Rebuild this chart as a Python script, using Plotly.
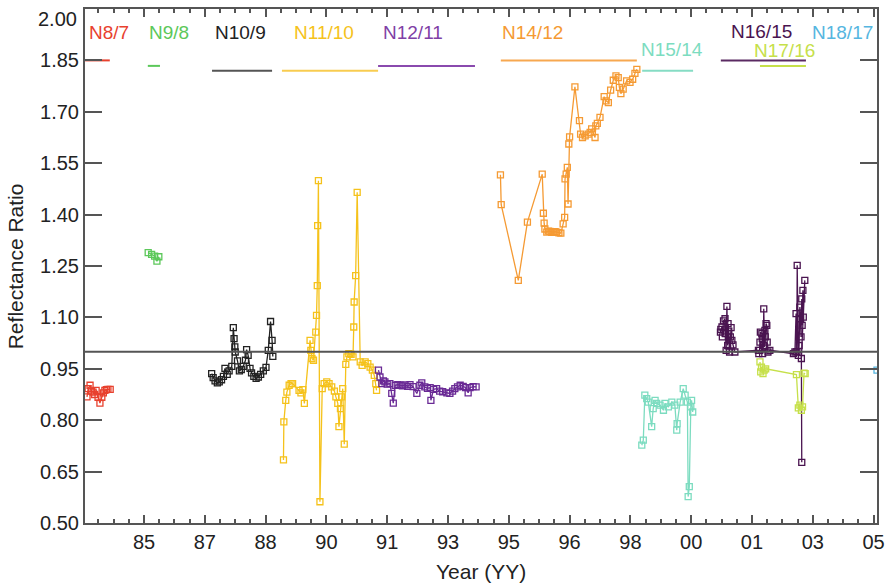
import plotly.graph_objects as go

# ---- Reflectance ratio time series for each satellite pair (decimal year, ratio) ----
n8_7_year = [1983.50, 1983.53, 1983.58, 1983.62, 1983.66, 1983.70, 1983.74, 1983.79,
             1983.84, 1983.89, 1983.93, 1983.97, 1984.01, 1984.05, 1984.11]
n8_7_ratio = [0.868, 0.892, 0.902, 0.885, 0.882, 0.875, 0.887, 0.867,
              0.850, 0.867, 0.880, 0.887, 0.889, 0.890, 0.890]

n9_8_year = [1985.11, 1985.20, 1985.28, 1985.34, 1985.39]
n9_8_ratio = [1.289, 1.284, 1.279, 1.264, 1.277]

n10_9_year = [1986.78, 1986.82, 1986.87, 1986.93, 1986.98, 1987.04, 1987.09, 1987.13,
              1987.19, 1987.24, 1987.31, 1987.35, 1987.37, 1987.39, 1987.40, 1987.46,
              1987.51, 1987.56, 1987.61, 1987.67, 1987.70, 1987.74, 1987.79, 1987.83,
              1987.89, 1987.95, 1988.01, 1988.07, 1988.14, 1988.21, 1988.27, 1988.33,
              1988.37, 1988.39]
n10_9_ratio = [0.936, 0.924, 0.915, 0.909, 0.912, 0.918, 0.928, 0.951,
               0.934, 0.944, 0.957, 1.070, 1.038, 1.014, 0.999, 0.973,
               0.944, 0.948, 0.957, 0.975, 1.006, 0.989, 0.951, 0.938,
               0.928, 0.922, 0.926, 0.934, 0.944, 0.954, 1.004, 1.088,
               1.033, 0.986]

n11_10_year = [1988.67, 1988.68, 1988.73, 1988.76, 1988.82, 1988.87, 1988.91, 1989.08,
               1989.13, 1989.18, 1989.22, 1989.37, 1989.39, 1989.42, 1989.46, 1989.52,
               1989.54, 1989.56, 1989.57, 1989.59, 1989.63, 1989.69, 1989.74, 1989.81,
               1989.87, 1989.94, 1990.01, 1990.05, 1990.10, 1990.13, 1990.17, 1990.20,
               1990.23, 1990.27, 1990.31, 1990.34, 1990.39, 1990.45, 1990.50, 1990.52,
               1990.53, 1990.57, 1990.61, 1990.69, 1990.74, 1990.82, 1990.89, 1990.95,
               1991.01, 1991.06, 1991.10, 1991.12]
n11_10_ratio = [0.684, 0.795, 0.858, 0.882, 0.902, 0.907, 0.907, 0.887,
                0.880, 0.889, 0.849, 1.033, 1.004, 0.980, 0.975, 1.057,
                1.106, 1.193, 1.368, 1.499, 0.562, 0.892, 0.907, 0.912,
                0.907, 0.897, 0.885, 0.868, 0.849, 0.781, 0.834, 0.868,
                0.892, 0.730, 0.963, 0.985, 0.994, 0.992, 0.985, 1.072,
                1.145, 1.222, 1.465, 0.970, 0.960, 0.970, 0.965, 0.955,
                0.946, 0.931, 0.907, 0.887]

n12_11_year = [1991.17, 1991.21, 1991.26, 1991.30, 1991.34, 1991.40, 1991.47, 1991.52,
               1991.56, 1991.61, 1991.68, 1991.74, 1991.80, 1991.87, 1991.94, 1992.00,
               1992.08, 1992.18, 1992.26, 1992.31, 1992.39, 1992.46, 1992.53, 1992.55,
               1992.62, 1992.70, 1992.78, 1992.86, 1992.97, 1993.05, 1993.12, 1993.18,
               1993.25, 1993.32, 1993.40, 1993.46, 1993.53, 1993.58, 1993.66, 1993.74]
n12_11_ratio = [0.946, 0.926, 0.907, 0.915, 0.912, 0.905, 0.907, 0.878,
                0.850, 0.902, 0.904, 0.902, 0.900, 0.903, 0.899, 0.904,
                0.898, 0.878, 0.902, 0.909, 0.897, 0.893, 0.895, 0.858,
                0.890, 0.892, 0.885, 0.883, 0.880, 0.878, 0.885, 0.892,
                0.897, 0.902, 0.899, 0.895, 0.880, 0.895, 0.898, 0.897]

n14_12_year = [1994.38, 1994.40, 1994.85, 1995.09, 1995.48, 1995.51, 1995.53, 1995.55,
               1995.60, 1995.64, 1995.68, 1995.73, 1995.77, 1995.82, 1995.86, 1995.92,
               1995.97, 1996.03, 1996.07, 1996.08, 1996.11, 1996.14, 1996.16, 1996.18,
               1996.20, 1996.34, 1996.46, 1996.49, 1996.54, 1996.61, 1996.69, 1996.74,
               1996.78, 1996.87, 1996.89, 1996.93, 1997.00, 1997.11, 1997.16, 1997.22,
               1997.28, 1997.35, 1997.42, 1997.48, 1997.51, 1997.55, 1997.61, 1997.70,
               1997.79, 1997.86, 1997.92, 1997.97]
n14_12_ratio = [1.516, 1.429, 1.208, 1.378, 1.518, 1.404, 1.375, 1.358,
                1.349, 1.352, 1.351, 1.348, 1.349, 1.350, 1.349, 1.347,
                1.346, 1.373, 1.392, 1.504, 1.518, 1.538, 1.431, 1.606,
                1.627, 1.773, 1.674, 1.635, 1.625, 1.630, 1.635, 1.640,
                1.650, 1.625, 1.659, 1.666, 1.684, 1.744, 1.732, 1.727,
                1.763, 1.792, 1.805, 1.800, 1.771, 1.753, 1.766, 1.790,
                1.786, 1.795, 1.812, 1.824]

n15_14_year = [1998.10, 1998.14, 1998.18, 1998.23, 1998.27, 1998.36, 1998.40, 1998.45,
               1998.49, 1998.58, 1998.67, 1998.71, 1998.80, 1998.89, 1998.97, 1999.02,
               1999.03, 1999.11, 1999.19, 1999.24, 1999.30, 1999.32, 1999.35, 1999.39,
               1999.41, 1999.44]
n15_14_ratio = [0.727, 0.742, 0.873, 0.863, 0.853, 0.781, 0.834, 0.858,
                0.849, 0.844, 0.829, 0.849, 0.839, 0.853, 0.844, 0.771,
                0.790, 0.853, 0.892, 0.873, 0.853, 0.577, 0.606, 0.839,
                0.858, 0.824]

n16_15_year = [2000.17, 2000.18, 2000.21, 2000.22, 2000.25, 2000.29, 2000.30, 2000.32,
               2000.34, 2000.36, 2000.37, 2000.39, 2000.41, 2000.43, 2000.45, 2000.47,
               2000.50, 2000.55, 2001.17, 2001.18, 2001.20, 2001.21, 2001.22, 2001.26,
               2001.27, 2001.28, 2001.30, 2001.31, 2001.33, 2001.34, 2001.35, 2001.37,
               2001.39, 2001.40, 2001.42, 2001.47, 2002.09, 2002.13, 2002.16, 2002.18,
               2002.19, 2002.22, 2002.24, 2002.26, 2002.28, 2002.29, 2002.31, 2002.32,
               2002.34, 2002.35, 2002.39, 2002.30, 2002.31]
n16_15_ratio = [1.057, 1.065, 1.072, 1.043, 1.090, 1.096, 1.053, 1.004,
                1.132, 1.018, 1.082, 1.060, 0.999, 1.043, 1.070, 1.033,
                1.020, 0.999, 1.004, 0.994, 1.004, 1.028, 1.057, 1.053,
                1.038, 0.994, 1.018, 1.125, 1.014, 1.062, 1.043, 1.082,
                1.077, 1.028, 0.999, 1.004, 0.994, 0.999, 1.111, 1.000,
                1.252, 0.989, 1.018, 1.130, 1.096, 1.043, 1.154, 1.077,
                1.179, 1.101, 1.208, 0.980, 0.677]

n17_16_year = [2001.21, 2001.23, 2001.25, 2001.29, 2001.32, 2001.36, 2002.17, 2002.22,
               2002.26, 2002.30, 2002.33, 2002.37, 2002.40]
n17_16_ratio = [0.970, 0.941, 0.955, 0.936, 0.946, 0.950, 0.933, 0.836,
                0.844, 0.829, 0.839, 0.937, 0.936]

n18_17_year = [2004.29]
n18_17_ratio = [0.946]

# ---- Pair names, colours and overlap periods (start, end, bar level) ----
pair_names = ["N8/7", "N9/8", "N10/9", "N11/10", "N12/11", "N14/12",
              "N15/14", "N16/15", "N17/16", "N18/17"]
pair_colors = ["#e8412e", "#5cc85a", "#222222", "#f5c21b", "#6a2a95", "#f59a33",
               "#7cdcc0", "#4a1450", "#c6e04a", "#55b6e0"]
label_colors = ["#e8412e", "#5cc85a", "#222222", "#f5c21b", "#7f3fa6", "#f59a33",
                "#7cdcc0", "#4a1450", "#c6e04a", "#55b6e0"]
bar_colors = ["#e8412e", "#5cc85a", "#555555", "#f8cc50", "#8a4aae", "#f7a850",
              "#86dcc4", "#5a2a62", "#c6e04a", "#55b6e0"]
overlap_start = [1983.45, 1985.10, 1986.79, 1988.63, 1991.16, 1994.39, 1998.11, 2000.18, 2001.21, None]
overlap_end = [1984.10, 1985.42, 1988.37, 1991.16, 1993.71, 1997.97, 1999.45, 2002.42, 2002.42, None]
overlap_level = [1.850, 1.834, 1.820, 1.820, 1.834, 1.850, 1.820, 1.850, 1.834, None]
label_year = [1983.50, 1985.08, 1986.82, 1988.89, 1991.24, 1994.37, 1998.03, 2000.39, 2001.00, 2002.53]
label_level = [1.93, 1.93, 1.93, 1.93, 1.93, 1.93, 1.882, 1.933, 1.880, 1.93]

series_year = [n8_7_year, n9_8_year, n10_9_year, n11_10_year, n12_11_year, n14_12_year,
               n15_14_year, n16_15_year, n17_16_year, n18_17_year]
series_ratio = [n8_7_ratio, n9_8_ratio, n10_9_ratio, n11_10_ratio, n12_11_ratio, n14_12_ratio,
                n15_14_ratio, n16_15_ratio, n17_16_ratio, n18_17_ratio]

# ---- Axis ticks ----
x_tick_first = 1985.0
x_tick_step = 1.6
x_tick_labels = ["85", "87", "88", "90", "91", "93", "95", "96", "98", "00", "01", "03", "05"]
x_tick_vals = [x_tick_first + x_tick_step * i for i in range(len(x_tick_labels))]
y_tick_labels = ["0.50", "0.65", "0.80", "0.95", "1.10", "1.25",
                 "1.40", "1.55", "1.70", "1.85", "2.00"]
y_tick_vals = [float(t) for t in y_tick_labels]
# the top label sits flush with the frame, so it is placed as its own text just below the edge
y_tick_text = y_tick_labels[:-1] + [""]
x_range = [1983.447, 2004.29]
y_range = [0.50, 2.00]

AXIS = "#555555"
FONT = "Liberation Sans, Arial, Helvetica, sans-serif"

fig = go.Figure()

for i, name in enumerate(pair_names):
    if overlap_start[i] is not None:
        fig.add_trace(go.Scatter(
            x=[overlap_start[i], overlap_end[i]], y=[overlap_level[i], overlap_level[i]],
            mode="lines", line=dict(color=bar_colors[i], width=2),
            hoverinfo="skip", showlegend=False))

for i, name in enumerate(pair_names):
    fig.add_trace(go.Scatter(
        x=series_year[i], y=series_ratio[i], name=name,
        mode="lines+markers",
        line=dict(color=pair_colors[i], width=1.3),
        marker=dict(symbol="square-open", size=6, color=pair_colors[i],
                    line=dict(width=1.3, color=pair_colors[i])),
        showlegend=False))

# unity reference line
fig.add_shape(type="line", xref="x", yref="y", x0=x_range[0], x1=x_range[1], y0=1.0, y1=1.0,
              line=dict(color=AXIS, width=2), layer="above")

annotations = []
for i, name in enumerate(pair_names):
    annotations.append(dict(x=label_year[i], y=label_level[i], xref="x", yref="y",
                            text=name, showarrow=False, xanchor="left", yanchor="middle",
                            font=dict(family=FONT, size=19, color=label_colors[i])))
annotations.append(dict(x=-0.0075, y=1.0, xref="paper", yref="paper", text=y_tick_labels[-1],
                        showarrow=False, xanchor="right", yanchor="top", yshift=3,
                        font=dict(family=FONT, size=20, color="#222222")))
annotations.append(dict(x=-0.088, y=0.5, xref="paper", yref="paper", text="Reflectance Ratio",
                        textangle=-90, showarrow=False, xanchor="center", yanchor="middle",
                        font=dict(family=FONT, size=21, color="#222222")))
annotations.append(dict(x=0.5, y=-0.095, xref="paper", yref="paper", text="Year (YY)",
                        showarrow=False, xanchor="center", yanchor="middle",
                        font=dict(family=FONT, size=21, color="#222222")))

fig.update_layout(
    width=890, height=588,
    margin=dict(l=85, r=13, t=9, b=65, autoexpand=False),
    paper_bgcolor="white", plot_bgcolor="white",
    font=dict(family=FONT, size=20, color="#222222"),
    annotations=annotations,
    showlegend=False,
)

fig.update_xaxes(
    range=x_range, tickmode="array", tickvals=x_tick_vals, ticktext=x_tick_labels,
    ticks="inside", ticklen=8, tickwidth=1.5, tickcolor=AXIS,
    minor=dict(tickmode="linear", tick0=x_tick_first, dtick=x_tick_step / 4,
               ticks="inside", ticklen=4, tickwidth=1.5, tickcolor=AXIS),
    showline=True, linecolor=AXIS, linewidth=2, mirror="allticks",
    showgrid=False, zeroline=False, automargin=False, ticklabeloverflow="allow",
    tickfont=dict(family=FONT, size=20, color="#222222"),
)
fig.update_yaxes(
    range=y_range, tickmode="array", tickvals=y_tick_vals, ticktext=y_tick_text,
    ticks="inside", ticklen=17, tickwidth=1.5, tickcolor=AXIS,
    showline=True, linecolor=AXIS, linewidth=2, mirror="allticks",
    showgrid=False, zeroline=False, automargin=False, ticklabeloverflow="allow",
    tickfont=dict(family=FONT, size=20, color="#222222"),
)

fig.write_html("out.html")
